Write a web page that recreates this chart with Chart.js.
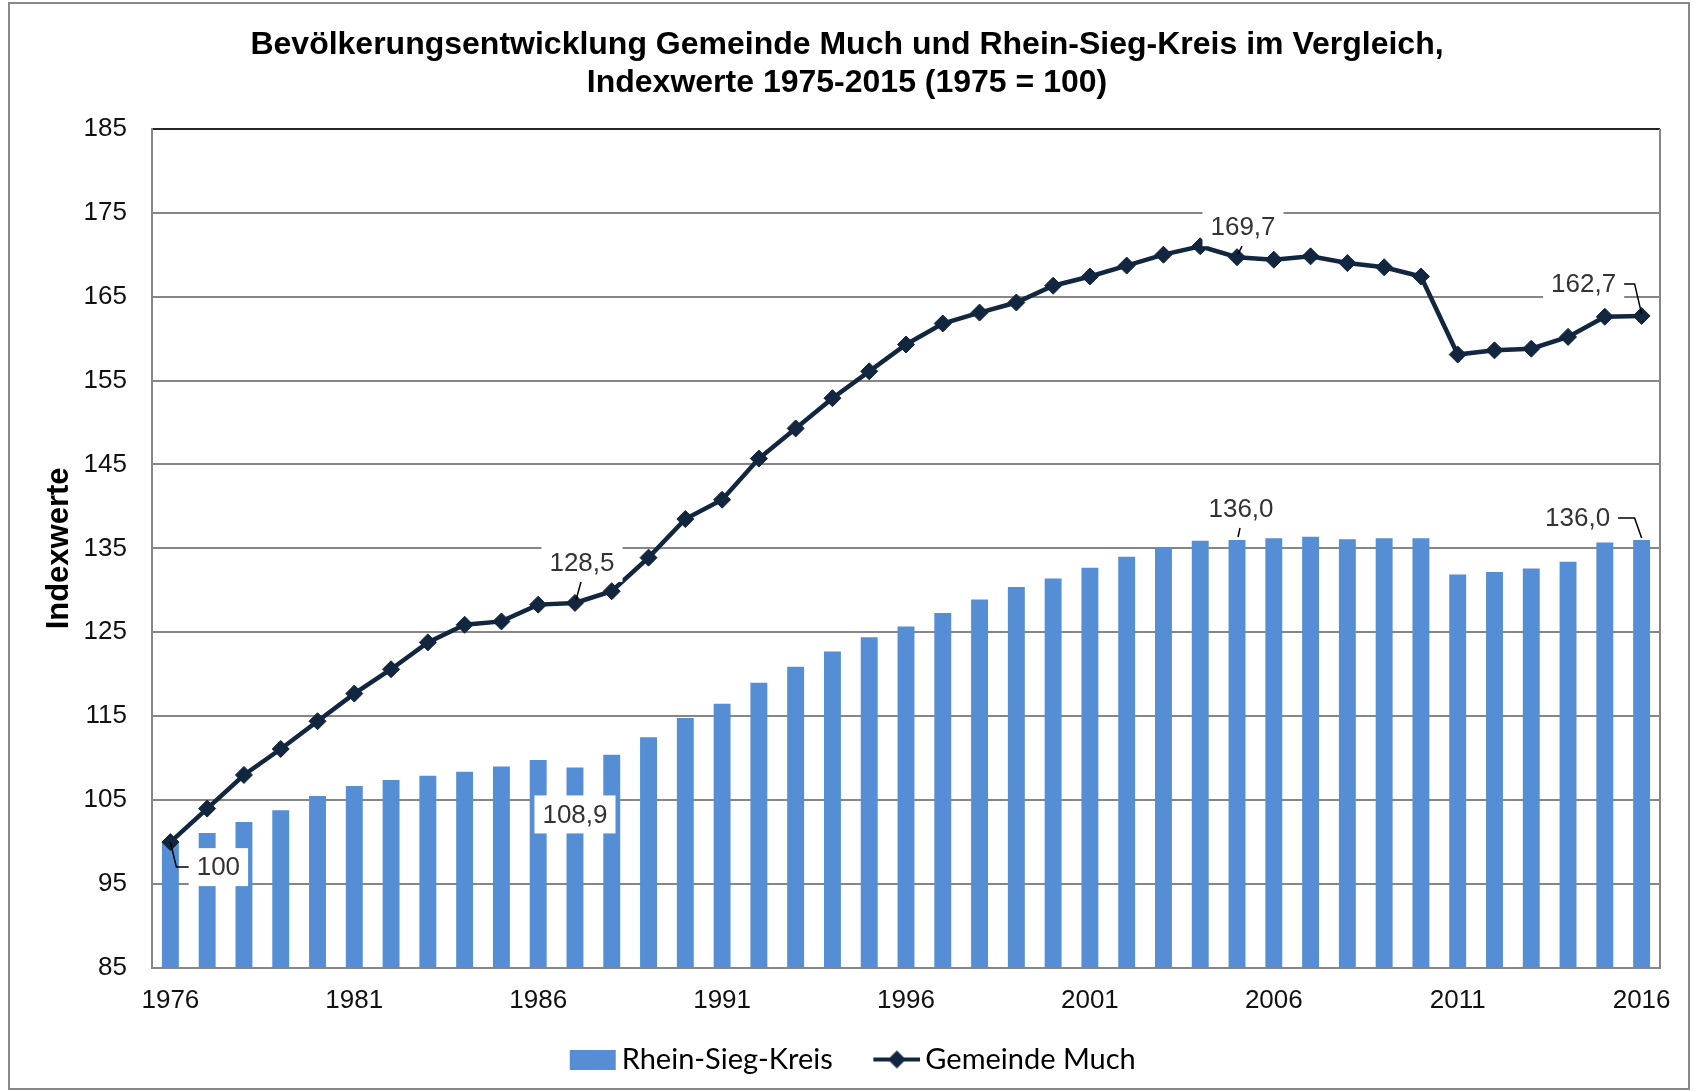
<!DOCTYPE html>
<html>
<head>
<meta charset="utf-8">
<script src="https://cdn.jsdelivr.net/npm/chart.js@4.4.0/dist/chart.umd.min.js"></script>
<style>
html, body { margin: 0; padding: 0; background: #fff; }
</style>
</head>
<body>
<canvas id="chart" width="1694" height="1091"></canvas>
<script>
// years on the x axis, one bar + one point per year
const years = ['1976', '1977', '1978', '1979', '1980', '1981', '1982', '1983', '1984', '1985',
    '1986', '1987', '1988', '1989', '1990', '1991', '1992', '1993', '1994', '1995',
    '1996', '1997', '1998', '1999', '2000', '2001', '2002', '2003', '2004', '2005',
    '2006', '2007', '2008', '2009', '2010', '2011', '2012', '2013', '2014', '2015', '2016'];
const xTickYears = ['1976', '1981', '1986', '1991', '1996', '2001', '2006', '2011', '2016'];

const rheinSiegKreis = [100.0, 101.1, 102.4, 103.8, 105.5, 106.7, 107.4, 107.9, 108.4, 109.0,
    109.8, 108.9, 110.4, 112.5, 114.8, 116.5, 119.0, 120.9, 122.7, 124.4,
    125.7, 127.3, 128.9, 130.4, 131.4, 132.7, 134.0, 135.1, 135.9, 136.0,
    136.2, 136.4, 136.1, 136.2, 136.2, 131.9, 132.2, 132.6, 133.4, 135.7, 136.0];

const gemeindeMuch = [100, 104.0, 108.0, 111.1, 114.4, 117.7, 120.6, 123.8, 125.9, 126.3,
    128.3, 128.5, 129.9, 133.9, 138.5, 140.8, 145.7, 149.3, 152.9, 156.1,
    159.3, 161.8, 163.1, 164.3, 166.3, 167.4, 168.7, 170.0, 171.0, 169.7,
    169.4, 169.8, 169.0, 168.5, 167.4, 158.1, 158.6, 158.8, 160.2, 162.6, 162.7];

const barBlue = '#558ED5';
const lineNavy = '#12263F';
const gridGrey = '#868686';
const font = 'Liberation Sans';

// which points get a value label (ds 0 = bars, ds 1 = line), offsets in px
const labelMarks = [
    {ds: 0, i: 11, dx: 0, dy: 47, digits: 1, leader: null},
    {ds: 0, i: 29, dx: 4, dy: -31, digits: 1, leader: 'below'},
    {ds: 0, i: 40, dx: -64, dy: -22, digits: 1, leader: 'right'},
    {ds: 1, i: 0, dx: 48, dy: 25, digits: 0, leader: 'left'},
    {ds: 1, i: 11, dx: 7, dy: -40, digits: 1, leader: 'below'},
    {ds: 1, i: 29, dx: 6, dy: -30, digits: 1, leader: 'below'},
    {ds: 1, i: 40, dx: -58, dy: -32, digits: 1, leader: 'right'}
];

// legend icons: drawn at the right end of a wider transparent canvas,
// so the icon sits close to its text and the items get more space between them
const ICON_W = 47;
const ICON_CANVAS = 68;
function legendIcon(kind) {
    const c = document.createElement('canvas');
    c.width = ICON_CANVAS;
    c.height = 20;
    const g = c.getContext('2d');
    const x0 = ICON_CANVAS - ICON_W;
    if (kind === 'bar') {
        g.fillStyle = barBlue;
        g.fillRect(x0, 0, 46, 20);
    } else {
        g.strokeStyle = lineNavy;
        g.lineWidth = 4;
        g.beginPath();
        g.moveTo(x0, 10);
        g.lineTo(x0 + ICON_W, 10);
        g.stroke();
        g.fillStyle = lineNavy;
        g.beginPath();
        g.moveTo(x0 + 23.5, 1);
        g.lineTo(x0 + 32.5, 10);
        g.lineTo(x0 + 23.5, 19);
        g.lineTo(x0 + 14.5, 10);
        g.closePath();
        g.fill();
    }
    return c;
}
const barIcon = legendIcon('bar');
const lineIcon = legendIcon('line');

const framePlugin = {
    id: 'frame',
    beforeDraw(chart) {
        const ctx = chart.ctx;
        ctx.save();
        ctx.fillStyle = '#fff';
        ctx.fillRect(0, 0, chart.width, chart.height);
        ctx.restore();
    },
    beforeDatasetsDraw(chart) {
        const {ctx, chartArea: a} = chart;
        ctx.save();
        ctx.strokeStyle = gridGrey;
        ctx.lineWidth = 2;
        ctx.beginPath();
        ctx.moveTo(a.right, a.top);
        ctx.lineTo(a.right, a.bottom);
        ctx.stroke();
        ctx.restore();
    },
    afterDraw(chart) {
        const ctx = chart.ctx;
        ctx.save();
        ctx.strokeStyle = '#888';
        ctx.lineWidth = 2;
        ctx.strokeRect(9, 3, 1680, 1086);
        ctx.restore();
    }
};

const dataLabels = {
    id: 'dataLabels',
    afterDatasetsDraw(chart) {
        const ctx = chart.ctx;
        ctx.save();
        ctx.font = '26px "' + font + '"';
        ctx.textAlign = 'center';
        ctx.textBaseline = 'middle';
        labelMarks.forEach(m => {
            const el = chart.getDatasetMeta(m.ds).data[m.i];
            const value = chart.data.datasets[m.ds].data[m.i];
            const text = value.toFixed(m.digits).replace('.', ',');
            const lx = el.x + m.dx;
            const ly = el.y + m.dy;
            const w = ctx.measureText(text).width + 16;
            const h = 38;
            ctx.fillStyle = '#fff';
            ctx.fillRect(lx - w / 2, ly - h / 2, w, h);
            ctx.strokeStyle = '#000';
            ctx.lineWidth = 1.5;
            ctx.beginPath();
            if (m.leader === 'below') {
                ctx.moveTo(lx - 1, ly + h / 2);
                ctx.lineTo(el.x + 1, el.y - 3);
            } else if (m.leader === 'left') {
                ctx.moveTo(el.x, el.y);
                ctx.lineTo(el.x + 6, ly);
                ctx.lineTo(lx - w / 2, ly);
            } else if (m.leader === 'right') {
                ctx.moveTo(lx + w / 2, ly);
                ctx.lineTo(el.x - 7, ly);
                ctx.lineTo(el.x, el.y - 2);
            }
            ctx.stroke();
            ctx.fillStyle = '#333';
            ctx.fillText(text, lx, ly + 1);
        });
        ctx.restore();
    }
};

const ctx = document.getElementById('chart').getContext('2d');
const chart = new Chart(ctx, {
    type: 'bar',
    data: {
        labels: years,
        datasets: [{
            type: 'bar',
            label: 'Rhein-Sieg-Kreis',
            data: rheinSiegKreis,
            backgroundColor: barBlue,
            barPercentage: 0.46,
            categoryPercentage: 1.0,
            order: 1
        }, {
            type: 'line',
            label: 'Gemeinde Much',
            data: gemeindeMuch,
            borderColor: lineNavy,
            backgroundColor: lineNavy,
            borderWidth: 4.5,
            pointStyle: 'rectRot',
            pointRadius: 8.5,
            pointBorderWidth: 1,
            pointBackgroundColor: lineNavy,
            pointBorderColor: lineNavy,
            tension: 0,
            fill: false,
            order: 0
        }]
    },
    options: {
        responsive: false,
        animation: false,
        devicePixelRatio: 1,
        layout: {padding: {left: 34, right: 34, top: 0, bottom: 7}},
        plugins: {
            tooltip: {enabled: false},
            title: {
                display: true,
                text: ['Bevölkerungsentwicklung Gemeinde Much und Rhein-Sieg-Kreis im Vergleich,',
                    'Indexwerte 1975-2015 (1975 = 100)'],
                color: '#000',
                font: {family: font, size: 32, weight: 'bold', lineHeight: 1.2},
                padding: {top: 26, bottom: 26}
            },
            legend: {
                position: 'bottom',
                labels: {
                    usePointStyle: true,
                    pointStyleWidth: 49,
                    padding: 29,
                    color: '#000',
                    font: {family: 'Lato', size: 29},
                    sort: (a, b) => a.datasetIndex - b.datasetIndex,
                    generateLabels(chart) {
                        const items = Chart.defaults.plugins.legend.labels.generateLabels(chart);
                        items.forEach(it => {
                            it.pointStyle = it.datasetIndex === 0 ? barIcon : lineIcon;
                        });
                        return items;
                    }
                }
            }
        },
        scales: {
            x: {
                offset: true,
                grid: {display: false, drawTicks: false},
                border: {display: true, color: gridGrey, width: 2},
                ticks: {
                    autoSkip: false,
                    maxRotation: 0,
                    padding: 20,
                    color: '#111',
                    font: {family: font, size: 26, lineHeight: 1.0},
                    callback(value) {
                        const y = this.getLabelForValue(value);
                        return xTickYears.includes(y) ? y : null;
                    }
                },
                afterFit(scale) { scale.height = 48; }
            },
            y: {
                min: 85,
                max: 185,
                ticks: {
                    stepSize: 10,
                    padding: 25,
                    color: '#111',
                    font: {family: font, size: 26}
                },
                grid: {
                    color: c => (c.tick && c.tick.value === 185) ? '#262626' : gridGrey,
                    lineWidth: 2,
                    drawTicks: false
                },
                border: {color: gridGrey, width: 2},
                title: {
                    display: true,
                    text: 'Indexwerte',
                    color: '#000',
                    font: {family: font, size: 31, weight: 'bold', lineHeight: 1.2},
                    padding: {top: 7, bottom: 0}
                },
                afterFit(scale) { scale.width = 118; }
            }
        }
    },
    plugins: [framePlugin, dataLabels]
});
</script>
</body>
</html>
